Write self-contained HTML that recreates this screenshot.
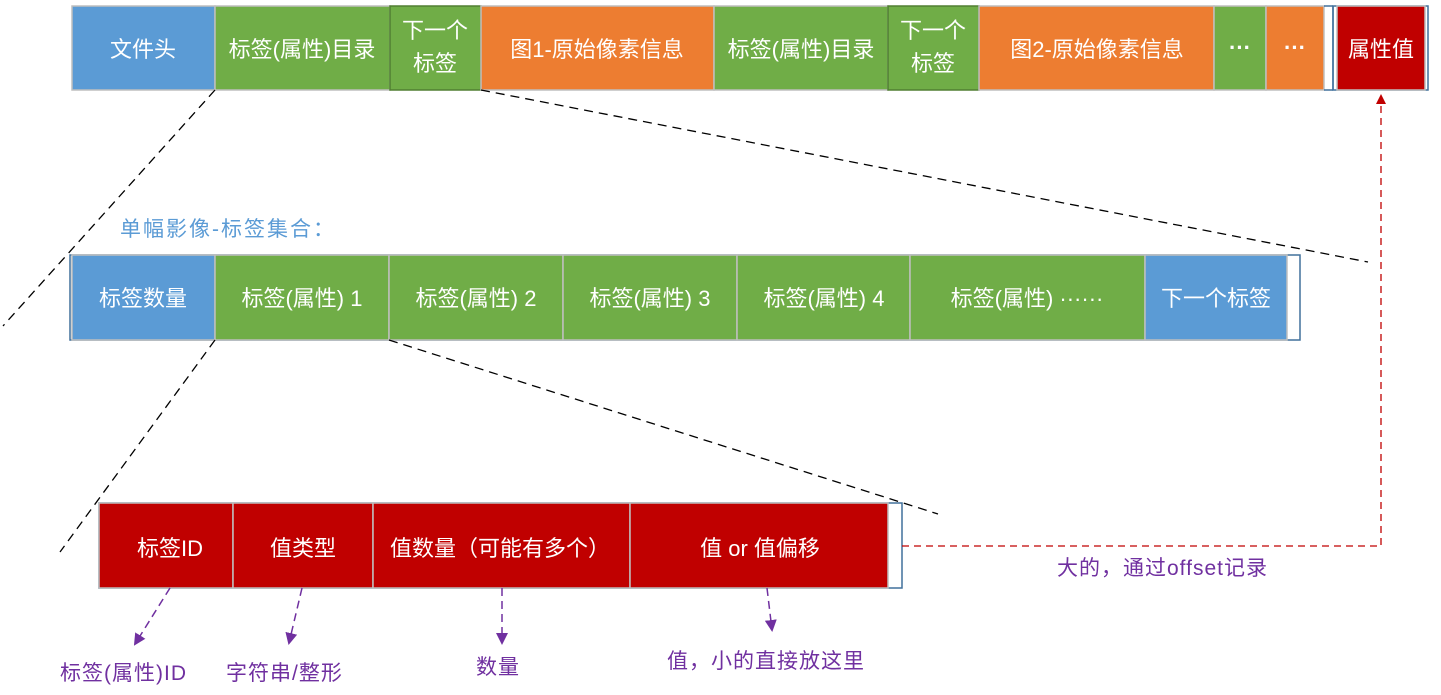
<!DOCTYPE html>
<html><head><meta charset="utf-8"><style>
html,body{margin:0;padding:0;background:#fff;width:1441px;height:695px;overflow:hidden}
svg text{font-family:"Liberation Sans","Noto Sans CJK SC",sans-serif}
</style></head><body>
<svg width="1441" height="695" viewBox="0 0 1441 695" xmlns="http://www.w3.org/2000/svg">
<defs>
<marker id="ar" markerWidth="10" markerHeight="10" refX="8" refY="5" orient="auto" markerUnits="userSpaceOnUse"><path d="M0,0 L10,5 L0,10 z" fill="#C00000"/></marker>
<marker id="ap" markerWidth="12" markerHeight="12" refX="10" refY="6" orient="auto" markerUnits="userSpaceOnUse"><path d="M0,0 L12,6 L0,12 z" fill="#7030A0"/></marker>
</defs>
<g stroke="#bfbfbf" stroke-width="1.5">
<rect x="1333" y="6" width="95" height="84" fill="#fff" stroke="#41719C"/>
<rect x="72" y="6" width="143" height="84" fill="#5B9BD5"/>
<rect x="215" y="6" width="175" height="84" fill="#70AD47"/>
<rect x="390" y="6" width="91" height="84" fill="#70AD47" stroke="#507E32"/>
<rect x="481" y="6" width="233" height="84" fill="#ED7D31"/>
<rect x="714" y="6" width="174" height="84" fill="#70AD47"/>
<rect x="888" y="6" width="91" height="84" fill="#70AD47" stroke="#507E32"/>
<rect x="979" y="6" width="235" height="84" fill="#ED7D31"/>
<rect x="1214" y="6" width="52" height="84" fill="#70AD47"/>
<rect x="1266" y="6" width="58" height="84" fill="#ED7D31"/>
<line x1="1324" y1="6" x2="1333" y2="6" stroke="#41719C"/><line x1="1333" y1="6" x2="1333" y2="90" stroke="#41719C"/><line x1="1324" y1="90" x2="1333" y2="90" stroke="#41719C"/>
<rect x="1337" y="6" width="88" height="84" fill="#C00000"/>
<rect x="70" y="255" width="1230" height="85" fill="#fff" stroke="#41719C"/>
<rect x="72" y="255" width="143" height="85" fill="#5B9BD5"/>
<rect x="215" y="255" width="174" height="85" fill="#70AD47"/>
<rect x="389" y="255" width="174" height="85" fill="#70AD47"/>
<rect x="563" y="255" width="174" height="85" fill="#70AD47"/>
<rect x="737" y="255" width="173" height="85" fill="#70AD47"/>
<rect x="910" y="255" width="235" height="85" fill="#70AD47"/>
<rect x="1145" y="255" width="142" height="85" fill="#5B9BD5"/>
<rect x="99" y="503" width="803" height="85" fill="#fff" stroke="#41719C"/>
<rect x="99" y="503" width="134" height="85" fill="#C00000"/>
<rect x="233" y="503" width="140" height="85" fill="#C00000"/>
<rect x="373" y="503" width="257" height="85" fill="#C00000"/>
<rect x="630" y="503" width="258" height="85" fill="#C00000"/>
</g>
<g fill="#fff" font-size="22" text-anchor="middle">
<text x="143" y="57">文件头</text>
<text x="302" y="57">标签(属性)目录</text>
<text x="435" y="38">下一个</text><text x="435" y="71">标签</text>
<text x="597" y="57">图1-原始像素信息</text>
<text x="801" y="57">标签(属性)目录</text>
<text x="933" y="38">下一个</text><text x="933" y="71">标签</text>
<text x="1097" y="57">图2-原始像素信息</text>
<text x="1240" y="55" font-weight="bold">···</text>
<text x="1295" y="55" font-weight="bold">···</text>
<text x="1381" y="57">属性值</text>
<text x="143" y="306">标签数量</text>
<text x="302" y="306">标签(属性) 1</text>
<text x="476" y="306">标签(属性) 2</text>
<text x="650" y="306">标签(属性) 3</text>
<text x="824" y="306">标签(属性) 4</text>
<text x="1027" y="306">标签(属性) ······</text>
<text x="1216" y="306">下一个标签</text>
<text x="170" y="556">标签ID</text>
<text x="303" y="556">值类型</text>
<text x="500" y="556">值数量（可能有多个）</text>
<text x="760" y="556">值 or 值偏移</text>
</g>
<text x="120" y="236" font-size="21" letter-spacing="2" fill="#5B9BD5">单幅影像-标签集合：</text>
<g stroke="#000" stroke-width="1.3" stroke-dasharray="9,6" fill="none">
<line x1="215" y1="90" x2="3" y2="326"/>
<line x1="481" y1="90" x2="1368" y2="262"/>
<line x1="215" y1="340" x2="60" y2="552"/>
<line x1="389" y1="340" x2="938" y2="514"/>
</g>
<polyline points="902,546 1381,546 1381,96" fill="none" stroke="#C00000" stroke-width="1.3" stroke-dasharray="7,5" marker-end="url(#ar)"/>
<g stroke="#7030A0" stroke-width="1.5" stroke-dasharray="8,5" fill="none">
<line x1="170" y1="588" x2="135" y2="644" marker-end="url(#ap)"/>
<line x1="302" y1="588" x2="289" y2="643" marker-end="url(#ap)"/>
<line x1="502" y1="588" x2="502" y2="643" marker-end="url(#ap)"/>
<line x1="767" y1="588" x2="772" y2="630" marker-end="url(#ap)"/>
</g>
<g fill="#7030A0" font-size="21" letter-spacing="1">
<text x="60" y="680">标签(属性)ID</text>
<text x="226" y="680">字符串/整形</text>
<text x="476" y="674">数量</text>
<text x="667" y="668">值，小的直接放这里</text>
<text x="1057" y="575">大的，通过offset记录</text>
</g>
</svg>
</body></html>
